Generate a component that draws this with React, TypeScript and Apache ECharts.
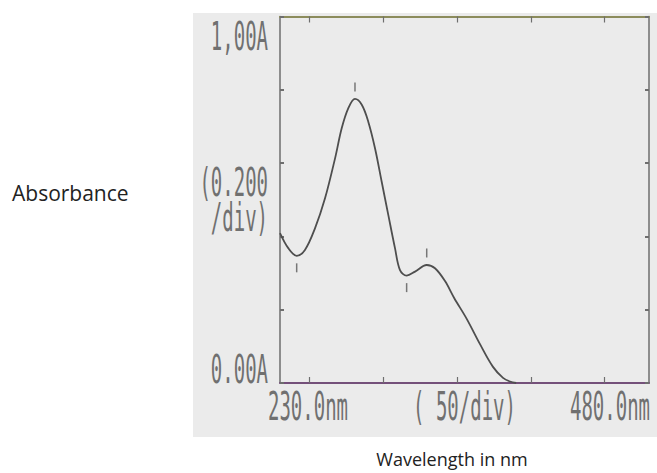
import React, { useEffect, useRef } from "react";
import * as echarts from "echarts";

// Spectrum (wavelength nm, absorbance A)
const wavelengths = [230, 235.6, 241.3, 246.9, 253.7, 260.5, 267.3, 271.8, 276.3, 280.8, 285.4, 289.8, 294.4, 298.9, 303.4, 307.9, 311.3, 315.8, 321.5, 329.4, 335, 341.8, 348, 356.5, 365.5, 374.3, 381.1, 385.8, 390];
const absorbance = [0.409, 0.368, 0.347, 0.363, 0.422, 0.504, 0.613, 0.695, 0.75, 0.775, 0.759, 0.713, 0.64, 0.549, 0.458, 0.368, 0.308, 0.293, 0.304, 0.322, 0.313, 0.278, 0.232, 0.175, 0.106, 0.044, 0.014, 0.004, 0];

// Peak / valley markers
const peakWavelengths = [280.8, 329.4];
const peakAbsorbance = [0.775, 0.322];
const valleyWavelengths = [241.3, 315.8];
const valleyAbsorbance = [0.347, 0.293];

// Axis settings
const xMin = 230;
const xMax = 480;
const xTickValues = [250, 300, 350, 400, 450];
const yMin = 0;
const yMax = 1;
const yInterval = 0.2;

// Instrument-style tick labels
const yTickLabels = ["1,00A", "(0.200\n/div)", "0.00A"];
const yTickLabelValues = [1, 0.5, 0];
const xTickLabels = ["230.0nm", "( 50/div)", "480.0nm"];
const xTickLabelValues = [230, 355, 480];

const yAxisTitle = "Absorbance";
const xAxisTitle = "Wavelength in nm";

export default function App() {
  const ref = useRef<HTMLDivElement>(null);

  useEffect(() => {
    if (!ref.current) return;
    const chart = echarts.init(ref.current, null, { renderer: "svg" });
    const axisGray = "#6e6e6e";
    chart.setOption({
      animation: false,
      backgroundColor: "#ffffff",
      grid: { left: 280, right: 8, top: 16.5, bottom: 90 },
      xAxis: [
        {
          type: "value",
          min: xMin,
          max: xMax,
          position: "bottom",
          axisLine: { onZero: false, lineStyle: { color: "#74507a", width: 2 } },
          axisTick: { customValues: xTickValues, inside: true, length: 6, lineStyle: { color: axisGray, width: 1.2 } },
          axisLabel: { show: false },
          splitLine: { show: false },
        },
        {
          type: "value",
          min: xMin,
          max: xMax,
          position: "top",
          axisLine: { onZero: false, lineStyle: { color: "#8c8c5c", width: 2 } },
          axisTick: { customValues: xTickValues, inside: true, length: 6, lineStyle: { color: axisGray, width: 1.2 } },
          axisLabel: { show: false },
          splitLine: { show: false },
        },
      ],
      yAxis: [
        {
          type: "value",
          min: yMin,
          max: yMax,
          interval: yInterval,
          position: "left",
          axisLine: { show: true, onZero: false, lineStyle: { color: axisGray, width: 1.5 } },
          axisTick: { show: true, inside: true, length: 4, lineStyle: { color: axisGray, width: 2 } },
          axisLabel: { show: false },
          splitLine: { show: false },
        },
        {
          type: "value",
          min: yMin,
          max: yMax,
          interval: yInterval,
          position: "right",
          axisLine: { show: true, onZero: false, lineStyle: { color: axisGray, width: 1.5 } },
          axisTick: { show: true, inside: true, length: 4, lineStyle: { color: axisGray, width: 2 } },
          axisLabel: { show: false },
          splitLine: { show: false },
        },
      ],
      series: [
        {
          type: "line",
          data: wavelengths.map((w, i) => [w, absorbance[i]]),
          smooth: 0.35,
          showSymbol: false,
          lineStyle: { color: "#4e4e4e", width: 1.8 },
          z: 3,
        },
        {
          type: "scatter",
          data: peakWavelengths.map((w, i) => [w, peakAbsorbance[i]]),
          symbol: "rect",
          symbolSize: [1.5, 9],
          symbolOffset: [0, -12],
          itemStyle: { color: "#5a5a5a" },
          z: 3,
        },
        {
          type: "scatter",
          data: valleyWavelengths.map((w, i) => [w, valleyAbsorbance[i]]),
          symbol: "rect",
          symbolSize: [1.5, 9],
          symbolOffset: [0, 12],
          itemStyle: { color: "#5a5a5a" },
          z: 3,
        },
      ],
    });

    const toPx = (x: number, y: number) => chart.convertToPixel({ gridIndex: 0 }, [x, y]) as number[];
    const bottomY = toPx(xMin, yMin)[1];
    const leftX = toPx(xMin, yMin)[0];
    const mono = {
      fontFamily: "DejaVu Sans Mono",
      fontSize: 19,
      fill: "#707070",
      lineHeight: 17,
    };
    const yOffsets = [20, 0, -13];
    const graphics: any[] = [
      {
        type: "rect",
        z: -1,
        silent: true,
        shape: { x: 193, y: 13, width: 464, height: 424 },
        style: { fill: "#ebebeb" },
      },
    ];
    yTickLabels.forEach((t, i) => {
      const p = toPx(xMin, yTickLabelValues[i]);
      graphics.push({
        type: "text",
        x: leftX - 12,
        y: p[1] + yOffsets[i],
        scaleY: 2.05,
        style: { ...mono, text: t, textAlign: "right", textVerticalAlign: "middle" },
      });
    });
    const xAligns = ["left", "center", "right"];
    const xOffsets = [-12, 0, 1];
    xTickLabels.forEach((t, i) => {
      const p = toPx(xTickLabelValues[i], yMin);
      graphics.push({
        type: "text",
        x: p[0] + xOffsets[i],
        y: bottomY + 24,
        scaleY: 2.05,
        style: { ...mono, text: t, textAlign: xAligns[i], textVerticalAlign: "middle" },
      });
    });
    graphics.push({
      type: "text",
      x: 12,
      y: 193,
      style: { text: yAxisTitle, fontFamily: "Open Sans", fontSize: 21, fill: "#222222", textAlign: "left", textVerticalAlign: "middle" },
    });
    graphics.push({
      type: "text",
      x: 452,
      y: 459,
      style: { text: xAxisTitle, fontFamily: "Open Sans", fontSize: 18, fill: "#222222", textAlign: "center", textVerticalAlign: "middle" },
    });
    chart.setOption({ graphic: graphics });

    return () => chart.dispose();
  }, []);

  return (
    <div
      ref={ref}
      style={{ position: "absolute", left: 0, top: 0, width: 657, height: 473 }}
    />
  );
}
